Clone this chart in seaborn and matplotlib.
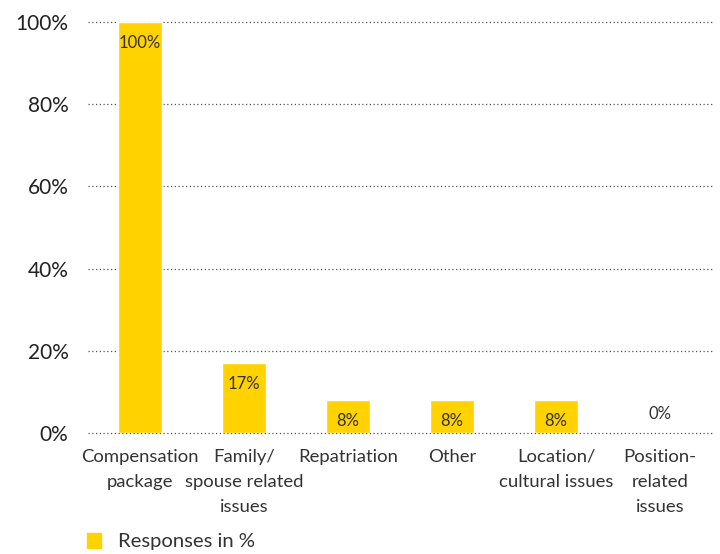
import matplotlib
matplotlib.use("Agg")
import matplotlib.pyplot as plt
import matplotlib.transforms as mtransforms
import seaborn as sns
import pandas as pd

categories = ["Compensation\npackage", "Family/\nspouse related\nissues", "Repatriation",
              "Other", "Location/\ncultural issues", "Position-\nrelated\nissues"]
responses = [100, 17, 8, 8, 8, 0]
y_ticks = [0, 20, 40, 60, 80, 100]
y_tick_labels = ["0%", "20%", "40%", "60%", "80%", "100%"]
series_name = "Responses in %"

YELLOW = "#FFD200"

sns.set_theme(style="white")
plt.rcParams["font.family"] = ["Lato", "DejaVu Sans"]

df = pd.DataFrame({"category": categories, "value": responses})

fig = plt.figure(figsize=(7.2, 5.54), dpi=100)
ax = fig.add_axes([0.122, 0.2184, 0.867, 0.742])

sns.barplot(data=df, x="category", y="value", color=YELLOW, width=0.42,
            saturation=1, ax=ax, zorder=3)

ax.set_ylim(0, 100)
ax.set_xlim(-0.5, len(categories) - 0.5)
ax.set_yticks(y_ticks)
ax.set_yticklabels(y_tick_labels, fontsize=15, color="#222222")
ax.tick_params(axis="y", length=0, pad=14)
ax.tick_params(axis="x", length=0)

# category names: each line placed under its bar position
ax.set_xticklabels([])
trans = mtransforms.blended_transform_factory(ax.transData, ax.transAxes)
for i, name in enumerate(categories):
    for j, line in enumerate(name.split("\n")):
        ax.annotate(line, (i, 0), xycoords=trans, xytext=(0, -17 - 18.1 * j),
                    textcoords="offset points", ha="center", va="center",
                    fontsize=13.3, color="#333333", annotation_clip=False)

for t in y_ticks:
    ax.axhline(t, color="#555555", linestyle=(0, (1, 2)), linewidth=0.9,
               zorder=1, clip_on=False)

for s in ax.spines.values():
    s.set_visible(False)
ax.set_xlabel("")
ax.set_ylabel("")

# value labels: inside the bar top, or just above an empty bar
for i, v in enumerate(responses):
    if v >= 5:
        ax.annotate(f"{v}%", (i, v), xytext=(0, -15), textcoords="offset points",
                    ha="center", va="center", fontsize=12, color="#333333", zorder=4)
    else:
        ax.annotate(f"{v}%", (i, v), xytext=(0, 14), textcoords="offset points",
                    ha="center", va="center", fontsize=12, color="#333333", zorder=4)

# legend
fig.patches.append(plt.Rectangle((87 / 720, 1 - 548 / 554), 14 / 720, 15 / 554,
                                 transform=fig.transFigure, color=YELLOW))
fig.text(118 / 720, 1 - 541 / 554, series_name, fontsize=14.6, color="#333333",
         va="center", ha="left")

fig.savefig("out.png", dpi=100)
